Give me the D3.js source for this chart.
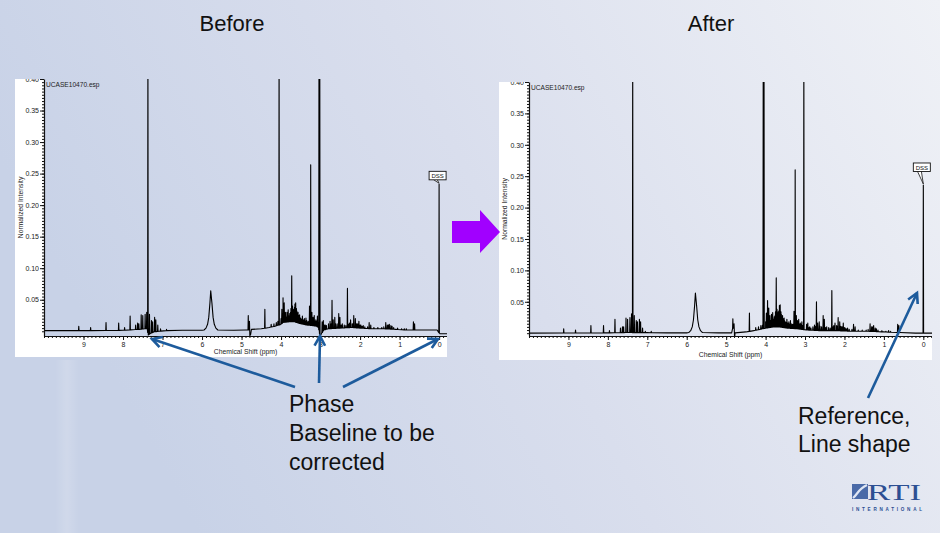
<!DOCTYPE html>
<html lang="en">
<head>
<meta charset="UTF-8" />
<title>NMR spectrum - before / after processing</title>
<script src="https://d3js.org/d3.v7.min.js"></script>
<style>
  html, body { margin: 0; padding: 0; }
  body { width: 940px; height: 533px; overflow: hidden; }
  svg { display: block; font-family: "Liberation Sans", Arial, sans-serif; }
</style>
</head>
<body>
<svg id="slide" width="940" height="533"></svg>
<script>
// axis ticks
const ppmTicks = [9, 8, 7, 6, 5, 4, 3, 2, 1, 0];
const intensityTicks = [0.05, 0.10, 0.15, 0.20, 0.25, 0.30, 0.35, 0.40];

// continuous part of each trace: [ppm, intensity] (baseline, broad peak, phase dips)
const traceBefore = [
  [10.0, .001], [9.0, .001], [8.0, .0015], [7.6, .003], [7.45, .004], [7.385, .004],
  [7.36, -.006], [7.32, -.004], [7.22, -.001], [7.10, .000], [6.90, .001], [6.5, .0015],
  [6.0, .0015], [5.95, .002], [5.90, .005], [5.86, .011], [5.83, .022], [5.80, .045],
  [5.78, .064], [5.75, .045], [5.72, .022], [5.69, .011], [5.65, .005], [5.60, .002],
  [5.2, .0015], [4.90, .002], [4.82, .002], [4.80, .016], [4.79, -.007], [4.77, -.005],
  [4.75, .003], [4.5, .004], [4.3, .006], [4.15, .008], [4.06, .010], [4.03, .010],
  [3.95, .014], [3.80, .015], [3.65, .015], [3.50, .012], [3.35, .010], [3.20, .009],
  [3.10, .008], [3.05, .006], [3.01, -.008], [2.98, -.004], [2.92, .002], [2.80, .004],
  [2.50, .005], [2.20, .006], [2.00, .005], [1.70, .004], [1.40, .004], [1.10, .003],
  [0.80, .002], [0.40, .002], [0.05, .002], [-0.02, -.004], [-0.20, -.004]
];
const traceAfter = [
  [10.0, .000], [8.0, .0005], [7.5, .001], [7.0, .0008], [6.5, .0005], [6.0, .0005],
  [5.95, .001], [5.90, .004], [5.86, .010], [5.83, .021], [5.80, .044], [5.78, .064],
  [5.75, .044], [5.72, .021], [5.69, .010], [5.65, .004], [5.60, .001], [5.2, .0005],
  [4.86, .0005], [4.80, .015], [4.785, -.009], [4.775, .0005], [4.5, .002], [4.3, .004],
  [4.15, .006], [4.0, .008], [3.80, .010], [3.65, .010], [3.45, .008], [3.20, .007],
  [2.95, .005], [2.60, .004], [2.20, .004], [1.80, .003], [1.40, .003], [1.00, .002],
  [0.60, .001], [0.20, .000], [-0.22, .000]
];

// narrow peaks: [ppm, top intensity]; 0.45 = off scale
const peaksBefore = [
  [9.12, .008], [8.82, .006], [8.43, .014], [8.11, .013], [7.96, .006], [7.82, .024],
  [7.68, .010], [7.63, .013], [7.60, .012], [7.54, .026], [7.50, .025], [7.44, .027],
  [7.40, .030], [7.37, .45], [7.33, .027], [7.28, .017], [7.25, .015], [7.20, .022],
  [7.17, .018], [7.12, .010], [7.05, .004], [6.90, .003],
  [4.83, .025], [4.41, .035], [4.25, .011], [4.18, .012], [4.12, .014], [4.08, .016], [4.05, .45],
  [4.00, .020], [3.98, .035], [3.97, .028], [3.95, .053], [3.93, .030], [3.92, .045],
  [3.89, .030], [3.87, .022], [3.85, .030], [3.84, .026], [3.82, .034], [3.80, .024],
  [3.78, .028], [3.76, .030], [3.75, .036], [3.73, .088], [3.71, .040], [3.69, .030],
  [3.68, .035], [3.66, .038], [3.65, .043], [3.63, .045], [3.61, .036], [3.60, .032],
  [3.59, .028], [3.57, .030], [3.55, .025], [3.53, .026], [3.52, .022], [3.50, .020],
  [3.48, .019], [3.46, .024], [3.44, .018], [3.41, .020], [3.39, .016], [3.37, .021],
  [3.35, .017], [3.32, .015], [3.30, .016], [3.28, .040], [3.26, .030], [3.25, .264],
  [3.22, .030], [3.19, .022], [3.16, .025], [3.14, .016], [3.12, .018], [3.10, .016],
  [3.08, .024], [3.06, .014], [3.04, .45], [3.02, .45],
  [2.96, .015], [2.93, .017], [2.90, .010], [2.88, .010], [2.85, .009], [2.80, .012],
  [2.76, .016], [2.73, .012], [2.71, .049], [2.68, .018], [2.64, .022], [2.62, .012],
  [2.58, .012], [2.54, .028], [2.51, .022], [2.48, .010], [2.45, .012], [2.40, .010],
  [2.36, .009], [2.32, .068], [2.29, .011], [2.27, .013], [2.24, .018], [2.20, .012],
  [2.18, .012], [2.16, .025], [2.12, .020], [2.09, .012], [2.06, .012], [2.03, .016],
  [2.00, .010], [1.98, .010], [1.95, .008], [1.92, .009], [1.88, .007], [1.81, .007],
  [1.77, .014], [1.73, .010], [1.65, .006], [1.55, .006], [1.45, .006], [1.40, .007],
  [1.35, .014], [1.31, .010], [1.28, .010], [1.26, .011], [1.22, .009], [1.19, .008],
  [1.15, .006], [1.05, .005], [0.95, .004], [0.88, .004], [0.83, .004], [0.65, .015],
  [0.62, .012], [0.00, .233]
];
const peaksAfter = [
  [9.12, .007], [8.82, .005], [8.43, .012], [8.11, .012], [7.96, .004], [7.82, .022],
  [7.68, .008], [7.63, .010], [7.60, .010], [7.54, .024], [7.50, .022], [7.44, .025],
  [7.40, .031], [7.37, .45], [7.33, .028], [7.28, .020], [7.25, .018], [7.20, .022],
  [7.17, .018], [7.12, .008], [7.05, .003], [6.90, .003],
  [4.83, .023], [4.41, .032], [4.25, .009], [4.18, .010], [4.12, .012], [4.08, .013], [4.06, .45], [4.04, .45],
  [4.00, .018], [3.98, .032], [3.97, .026], [3.95, .052], [3.93, .028], [3.92, .040],
  [3.89, .028], [3.87, .020], [3.85, .030], [3.84, .024], [3.82, .033], [3.80, .022],
  [3.78, .026], [3.76, .028], [3.75, .034], [3.73, .088], [3.71, .038], [3.69, .028],
  [3.68, .034], [3.66, .036], [3.65, .044], [3.63, .045], [3.61, .034], [3.60, .030],
  [3.59, .026], [3.57, .028], [3.55, .023], [3.53, .024], [3.52, .020], [3.50, .018],
  [3.48, .017], [3.46, .022], [3.44, .016], [3.41, .018], [3.39, .014], [3.37, .020],
  [3.35, .015], [3.32, .014], [3.30, .014], [3.28, .035], [3.26, .028], [3.25, .260],
  [3.22, .028], [3.19, .020], [3.16, .022], [3.14, .014], [3.12, .016], [3.10, .014],
  [3.08, .018], [3.06, .012], [3.03, .45],
  [2.96, .014], [2.93, .016], [2.90, .009], [2.88, .010], [2.85, .008], [2.80, .010],
  [2.76, .013], [2.73, .011], [2.71, .050], [2.68, .016], [2.64, .018], [2.62, .011],
  [2.58, .010], [2.54, .028], [2.51, .022], [2.48, .009], [2.45, .010], [2.40, .009],
  [2.36, .008], [2.32, .068], [2.29, .010], [2.27, .012], [2.24, .016], [2.20, .012],
  [2.18, .011], [2.16, .025], [2.12, .018], [2.09, .011], [2.06, .010], [2.03, .016],
  [2.00, .009], [1.98, .008], [1.95, .007], [1.92, .008], [1.88, .006], [1.81, .006],
  [1.77, .014], [1.73, .010], [1.65, .005], [1.55, .005], [1.45, .005], [1.40, .006],
  [1.35, .015], [1.31, .010], [1.28, .010], [1.26, .012], [1.22, .008], [1.19, .007],
  [1.15, .005], [1.05, .004], [0.95, .003], [0.88, .004], [0.83, .003], [0.65, .014],
  [0.62, .012], [0.00, .236]
];

const fileName = "UCASE10470.esp";

// layout of the two spectrum panels on the slide
const panels = [
  { title: "Before", titleX: 232, frame: [15, 79, 447, 357], plot: [44, 79, 447, 336],
    xDomain: [10, -0.2], yDomain: [-0.0075, 0.4], trace: traceBefore, peaks: peaksBefore,
    dssDy: -13 },
  { title: "After", titleX: 711, frame: [499, 82, 932, 360], plot: [529, 82, 932, 336],
    xDomain: [10, -0.22], yDomain: [-0.0045, 0.4], trace: traceAfter, peaks: peaksAfter,
    dssDy: -22 }
];

const svg = d3.select("#slide");
const defs = svg.append("defs");

// slide background
const bg = defs.append("linearGradient").attr("id", "bg").attr("x1", 0).attr("y1", 0.3).attr("x2", 1).attr("y2", 0);
bg.append("stop").attr("offset", "0%").attr("stop-color", "#c8d2e7");
bg.append("stop").attr("offset", "45%").attr("stop-color", "#d9deed");
bg.append("stop").attr("offset", "100%").attr("stop-color", "#eff1f6");
svg.append("rect").attr("width", 940).attr("height", 533).attr("fill", "url(#bg)");
const streak = defs.append("linearGradient").attr("id", "streak").attr("x1", 0).attr("x2", 1);
streak.append("stop").attr("offset", "0%").attr("stop-color", "#fff").attr("stop-opacity", 0);
streak.append("stop").attr("offset", "50%").attr("stop-color", "#fff").attr("stop-opacity", 0.15);
streak.append("stop").attr("offset", "100%").attr("stop-color", "#fff").attr("stop-opacity", 0);
svg.append("rect").attr("x", 55).attr("y", 360).attr("width", 24).attr("height", 173).attr("fill", "url(#streak)");

panels.forEach((p, i) => {
  const [fx0, fy0, fx1, fy1] = p.frame;
  const [px0, py0, px1, py1] = p.plot;
  const x = d3.scaleLinear().domain(p.xDomain).range([px0, px1]);
  const y = d3.scaleLinear().domain(p.yDomain).range([py1, py0]);

  svg.append("text").attr("x", p.titleX).attr("y", 31).attr("text-anchor", "middle")
    .attr("font-size", 22).attr("fill", "#111").text(p.title);

  defs.append("clipPath").attr("id", "frame" + i)
    .append("rect").attr("x", fx0).attr("y", fy0).attr("width", fx1 - fx0).attr("height", fy1 - fy0);
  defs.append("clipPath").attr("id", "plot" + i)
    .append("rect").attr("x", px0).attr("y", py0).attr("width", px1 - px0).attr("height", py1 - py0);

  const g = svg.append("g").attr("clip-path", `url(#frame${i})`);
  // white margins, the plot area itself is see-through
  g.append("rect").attr("x", fx0).attr("y", fy0).attr("width", px0 - fx0).attr("height", fy1 - fy0).attr("fill", "#fff");
  g.append("rect").attr("x", px0).attr("y", py1).attr("width", fx1 - px0).attr("height", fy1 - py1).attr("fill", "#fff");

  // spectrum: baseline trace plus narrow peaks sitting on it
  const base = d3.scaleLinear().domain(p.trace.map(d => d[0])).range(p.trace.map(d => d[1]));
  const hw = 0.007;
  const pts = p.trace.slice();
  p.peaks.forEach(([ppm, top]) => {
    const b = base(ppm);
    pts.push([ppm + hw, b], [ppm, top], [ppm - hw, b]);
  });
  pts.sort((a, b) => b[0] - a[0]);
  const line = d3.line().x(d => x(d[0])).y(d => y(d[1]));
  g.append("g").attr("clip-path", `url(#plot${i})`)
    .append("path").datum(pts).attr("d", line)
    .attr("fill", "none").attr("stroke", "#000").attr("stroke-width", 1.1)
    .attr("stroke-linejoin", "round");

  // axes
  const xMinor = g.append("g").attr("transform", `translate(0,${py1})`)
    .call(d3.axisBottom(x).tickValues(d3.range(-0.2, 10.001, 0.1)).tickSize(2).tickFormat(""));
  xMinor.select(".domain").remove();
  const xAxis = g.append("g").attr("transform", `translate(0,${py1})`)
    .call(d3.axisBottom(x).tickValues(ppmTicks).tickSize(4).tickSizeOuter(0).tickPadding(2).tickFormat(d3.format("d")));
  const yMinor = g.append("g").attr("transform", `translate(${px0},0)`)
    .call(d3.axisLeft(y).tickValues(d3.range(0, 0.4001, 0.005)).tickSize(2).tickFormat(""));
  yMinor.select(".domain").remove();
  const yAxis = g.append("g").attr("transform", `translate(${px0},0)`)
    .call(d3.axisLeft(y).tickValues(intensityTicks).tickSize(4).tickSizeOuter(0).tickPadding(1).tickFormat(d3.format(".2f")));
  [xAxis, yAxis, xMinor, yMinor].forEach(a => {
    a.selectAll("line").attr("stroke", "#111");
    a.select(".domain").attr("stroke", "#111").attr("stroke-width", 1.2);
    a.selectAll("text").attr("font-size", 7).attr("fill", "#222").attr("font-family", null);
  });

  g.append("text").attr("x", (px0 + px1) / 2).attr("y", fy1 - 3).attr("text-anchor", "middle")
    .attr("font-size", 6.8).attr("fill", "#222").text("Chemical Shift (ppm)");
  g.append("text").attr("transform", `translate(${fx0 + 8},${(py0 + py1) / 2}) rotate(-90)`)
    .attr("text-anchor", "middle").attr("font-size", 6.8).attr("fill", "#222").text("Normalized Intensity");
  g.append("text").attr("x", px0 + 2).attr("y", py0 + 8).attr("font-size", 6.6).attr("fill", "#222").text(fileName);

  // DSS reference callout
  const dss = p.peaks.find(d => d[0] === 0);
  const dx = x(0), dy = y(dss[1]);
  const bx = dx - 10, by = dy + p.dssDy;
  g.append("path")
    .attr("d", `M${bx + 4},${by + 8} L${dx},${dy - 1} L${bx + 8},${by + 8}`)
    .attr("fill", "#fff").attr("stroke", "#111").attr("stroke-width", 0.8);
  g.append("rect").attr("x", bx).attr("y", by).attr("width", 17).attr("height", 8.5)
    .attr("fill", "#fff").attr("stroke", "#111").attr("stroke-width", 0.9);
  g.append("text").attr("x", bx + 8.5).attr("y", by + 6.6).attr("text-anchor", "middle")
    .attr("font-size", 6).attr("fill", "#111").text("DSS");
});

// purple "before -> after" arrow
svg.append("path")
  .attr("d", "M452,221 L480,221 L480,210 L500,232 L480,253 L480,243 L452,243 Z")
  .attr("fill", "#a100ff");

// blue annotation arrows
const arrows = [
  [[295, 387], [152, 339]],
  [[319, 383], [320, 336]],
  [[343, 387], [438, 339]],
  [[868, 398], [917, 293]]
];
const blue = "#1d5b9c";
arrows.forEach(([s, t]) => {
  const a = Math.atan2(t[1] - s[1], t[0] - s[0]);
  const len = 11, spread = 0.5;
  svg.append("line").attr("x1", s[0]).attr("y1", s[1]).attr("x2", t[0]).attr("y2", t[1])
    .attr("stroke", blue).attr("stroke-width", 2.6);
  svg.append("path")
    .attr("d", `M${t[0] - len * Math.cos(a - spread)},${t[1] - len * Math.sin(a - spread)} L${t[0]},${t[1]} L${t[0] - len * Math.cos(a + spread)},${t[1] - len * Math.sin(a + spread)}`)
    .attr("fill", "none").attr("stroke", blue).attr("stroke-width", 2.6).attr("stroke-linejoin", "miter");
});

// annotation texts
const noteLeft = ["Phase", "Baseline to be", "corrected"];
const noteRight = ["Reference,", "Line shape"];
svg.append("text").attr("x", 289).attr("y", 412).attr("font-size", 23).attr("fill", "#111")
  .selectAll("tspan").data(noteLeft).join("tspan")
  .attr("x", 289).attr("dy", (d, i) => i ? 29 : 0).text(d => d);
svg.append("text").attr("x", 798).attr("y", 424).attr("font-size", 23).attr("fill", "#111")
  .selectAll("tspan").data(noteRight).join("tspan")
  .attr("x", 798).attr("dy", (d, i) => i ? 28 : 0).text(d => d);

// RTI logo
const logo = svg.append("g");
logo.append("rect").attr("x", 852).attr("y", 484).attr("width", 16).attr("height", 15).attr("fill", "#4a6aa8");
logo.append("path").attr("d", "M853,498 C858,494 858,489 867,485").attr("fill", "none")
  .attr("stroke", "#dfe6f3").attr("stroke-width", 2.2);
logo.append("text").attr("x", 867).attr("y", 499.5).attr("font-family", "'Liberation Serif', 'DejaVu Serif', serif")
  .attr("font-size", 23).attr("fill", "#2c4f93").attr("textLength", 54)
  .attr("lengthAdjust", "spacingAndGlyphs").text("RTI");
logo.append("text").attr("x", 852).attr("y", 510.5).attr("font-size", 4.6).attr("fill", "#2c4f93")
  .attr("textLength", 70).attr("font-weight", "bold").text("INTERNATIONAL");
</script>
</body>
</html>
